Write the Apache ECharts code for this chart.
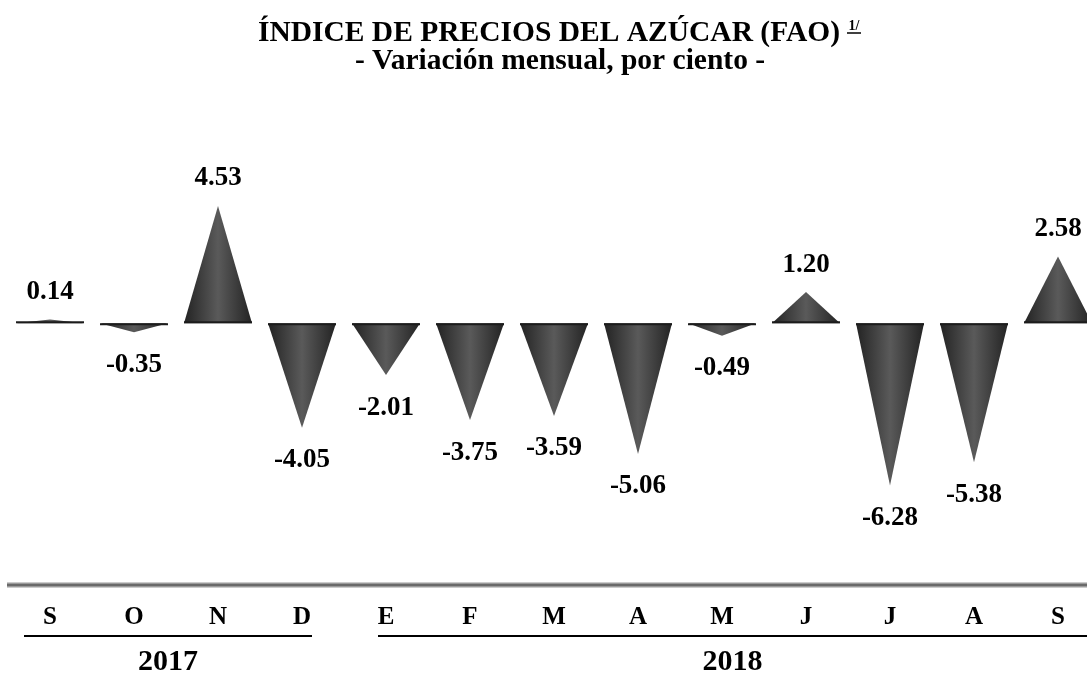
<!DOCTYPE html>
<html>
<head>
<meta charset="utf-8">
<script src="https://cdn.jsdelivr.net/npm/echarts@6/dist/echarts.min.js"></script>
<style>
  html, body { margin: 0; padding: 0; background: #ffffff; overflow: hidden; }
  /* the canvas is a little wider than the page, so the last cone runs off the right edge */
  #chart { width: 1100px; height: 673px; }
</style>
</head>
<body>
<div id="chart"></div>
<script>
// Monthly change of the FAO sugar price index, percent
const months = ['S', 'O', 'N', 'D', 'E', 'F', 'M', 'A', 'M', 'J', 'J', 'A', 'S'];
const changes = [0.14, -0.35, 4.53, -4.05, -2.01, -3.75, -3.59, -5.06, -0.49, 1.20, -6.28, -5.38, 2.58];
const years = ['2017', '2018'];
const yearFirstMonth = [0, 4];
const yearLastMonth = [3, 12];
const titleText = 'ÍNDICE DE PRECIOS DEL AZÚCAR (FAO)';
const subtitleText = '- Variación mensual, por ciento -';
const noteMark = '1/';

const FONT = '"Liberation Serif", "Times New Roman", serif';
const chart = echarts.init(document.getElementById('chart'), null, { renderer: 'canvas' });

// cylindrical shading across each cone
const coneFill = new echarts.graphic.LinearGradient(0, 0, 1, 0, [
  { offset: 0, color: '#232323' },
  { offset: 0.5, color: '#5a5a5a' },
  { offset: 1, color: '#232323' }
]);

// pictorialBar mirrors the symbol for negative values, so cones point down on their own
const cones = changes.map(v => ({
  value: v,
  label: { position: v < 0 ? 'bottom' : 'top', distance: v < 0 ? 19 : 14 }
}));

chart.setOption({
  animation: false,
  backgroundColor: '#ffffff',
  grid: { left: 8, right: 0, top: 168, height: 362, containLabel: false },
  xAxis: {
    type: 'category',
    data: months,
    axisLine: { show: false, onZero: false },
    axisTick: { show: false },
    splitLine: { show: false },
    axisLabel: {
      margin: 75,
      fontSize: 25,
      lineHeight: 26,
      fontWeight: 'bold',
      fontFamily: FONT,
      color: '#000000'
    }
  },
  yAxis: {
    type: 'value',
    min: -8,
    max: 6,
    show: false,
    splitLine: { show: false }
  },
  series: [
    {
      type: 'pictorialBar',
      data: cones,
      symbol: 'triangle',
      symbolSize: [68, '100%'],
      itemStyle: { color: coneFill },
      z: 2,
      label: {
        show: true,
        fontSize: 27,
        fontWeight: 'bold',
        fontFamily: FONT,
        color: '#000000',
        formatter: p => p.value.toFixed(2)
      }
    },
    {
      // dark rim along each cone's base
      type: 'pictorialBar',
      data: changes,
      symbol: 'rect',
      symbolSize: [68, 2],
      symbolPosition: 'start',
      barGap: '-100%',
      itemStyle: { color: '#1c1c1c' },
      z: 3,
      silent: true
    }
  ]
});

function px(i) {
  return chart.convertToPixel({ xAxisIndex: 0 }, i);
}

const graphics = [
  {
    type: 'text',
    style: {
      text: titleText, x: 549, y: 33, align: 'center', verticalAlign: 'middle',
      fontSize: 29.5, fontWeight: 'bold', fontFamily: FONT, fill: '#000000'
    }
  },
  {
    type: 'text',
    style: {
      text: noteMark, x: 854, y: 26, align: 'center', verticalAlign: 'middle',
      fontSize: 14, fontWeight: 'bold', fontFamily: FONT, fill: '#000000'
    }
  },
  {
    type: 'line',
    shape: { x1: 847, y1: 33, x2: 861, y2: 33 },
    style: { stroke: '#000000', lineWidth: 1.5 }
  },
  {
    type: 'text',
    style: {
      text: subtitleText, x: 560, y: 61, align: 'center', verticalAlign: 'middle',
      fontSize: 29.5, fontWeight: 'bold', fontFamily: FONT, fill: '#000000'
    }
  },
  // grey rule above the month row
  {
    type: 'line',
    shape: { x1: 7, y1: 585, x2: 1100, y2: 585 },
    style: { stroke: '#9a9a9a', lineWidth: 5 }
  },
  {
    type: 'line',
    shape: { x1: 7, y1: 585, x2: 1100, y2: 585 },
    style: { stroke: '#6a6a6a', lineWidth: 2 }
  }
];

years.forEach((yr, k) => {
  const x1 = px(yearFirstMonth[k]) - (k === 0 ? 26 : 8);
  const x2 = k === years.length - 1 ? 1087 : px(yearLastMonth[k]) + 10;
  graphics.push({
    type: 'line',
    shape: { x1: x1, y1: 636, x2: k === years.length - 1 ? 1100 : x2, y2: 636 },
    style: { stroke: '#000000', lineWidth: 2 }
  });
  graphics.push({
    type: 'text',
    style: {
      text: yr, x: (x1 + x2) / 2, y: 662, align: 'center', verticalAlign: 'middle',
      fontSize: 30, fontWeight: 'bold', fontFamily: FONT, fill: '#000000'
    }
  });
});

chart.setOption({ graphic: graphics });
</script>
</body>
</html>
